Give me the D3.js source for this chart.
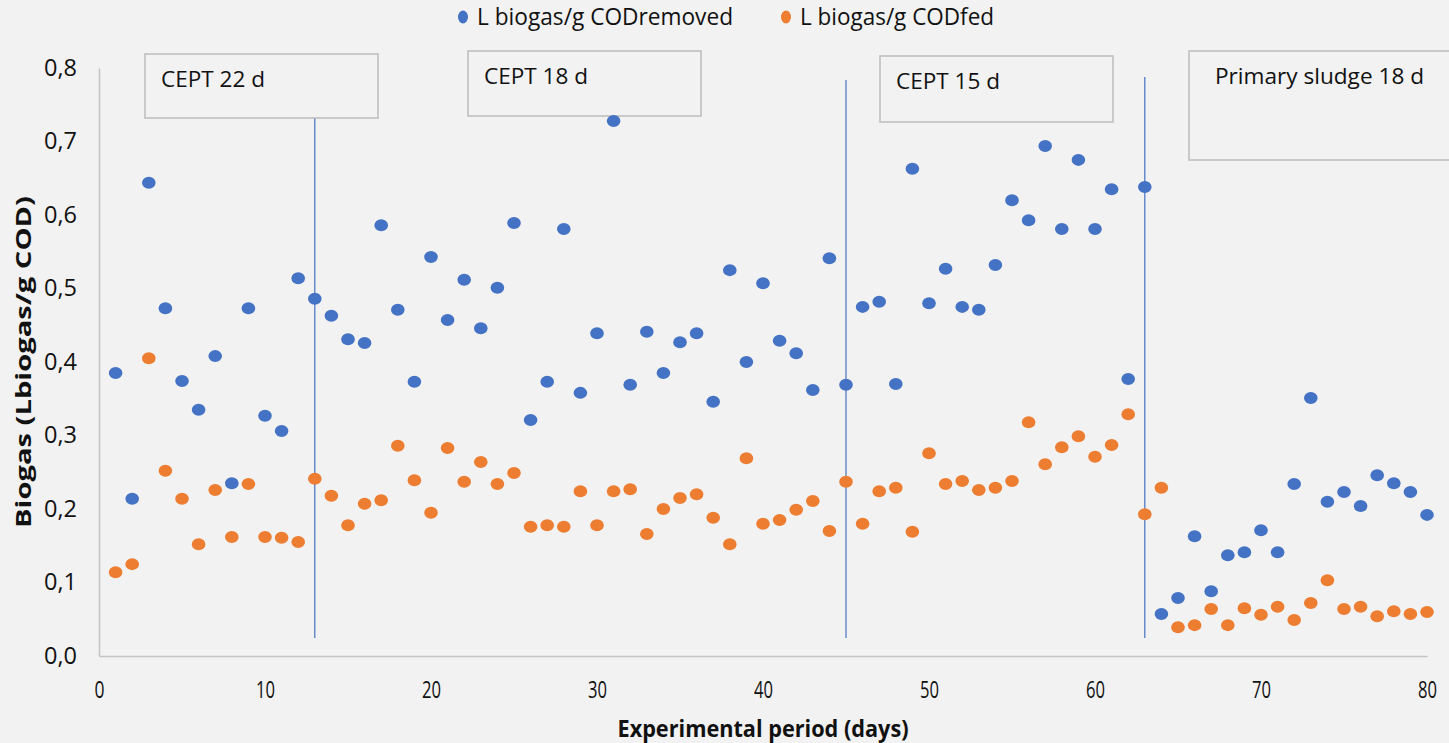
<!DOCTYPE html>
<meta charset="utf-8">
<body style="margin:0;background:#f2f2f2">
<svg width="1449" height="743"></svg>
<script src="https://cdnjs.cloudflare.com/ajax/libs/d3/7.8.5/d3.min.js"></script>
<script>
var days = d3.range(1, 81);

var removed = [0.385,0.214,0.644,0.473,0.374,0.335,0.408,0.235,0.473,0.327,
  0.306,0.514,0.486,0.463,0.431,0.426,0.586,0.471,0.373,0.543,
  0.457,0.512,0.446,0.501,0.589,0.321,0.373,0.581,0.358,0.439,
  0.728,0.369,0.441,0.385,0.427,0.439,0.346,0.525,0.400,0.507,
  0.429,0.412,0.362,0.541,0.369,0.475,0.482,0.370,0.663,0.480,
  0.527,0.475,0.471,0.532,0.620,0.593,0.694,0.581,0.675,0.581,
  0.635,0.377,0.638,0.057,0.079,0.163,0.088,0.137,0.141,0.171,
  0.141,0.234,0.351,0.210,0.223,0.204,0.246,0.235,0.223,0.192];

var fed = [0.114,0.125,0.405,0.252,0.214,0.152,0.226,0.162,0.234,0.162,
  0.161,0.155,0.241,0.218,0.178,0.207,0.212,0.286,0.239,0.195,
  0.283,0.237,0.264,0.234,0.249,0.176,0.178,0.176,0.224,0.178,
  0.224,0.227,0.166,0.200,0.215,0.220,0.188,0.152,0.269,0.180,
  0.185,0.199,0.211,0.170,0.237,0.180,0.224,0.229,0.169,0.276,
  0.234,0.238,0.226,0.229,0.238,0.318,0.261,0.284,0.299,0.271,
  0.287,0.329,0.193,0.229,0.039,0.042,0.064,0.042,0.065,0.056,
  0.067,0.049,0.072,0.103,0.064,0.067,0.054,0.061,0.057,0.060];

var seriesNames = ["L biogas/g CODremoved", "L biogas/g CODfed"];
var colors = ["#4472C4", "#ED7D31"];

// phase changes and their labels
var phaseDays = [13, 45, 63];
var phaseLabels = ["CEPT 22 d", "CEPT 18 d", "CEPT 15 d", "Primary sludge 18 d"];

var xTicks = [0, 10, 20, 30, 40, 50, 60, 70, 80];
var yTicks = [0, 0.1, 0.2, 0.3, 0.4, 0.5, 0.6, 0.7, 0.8];

var font = "Open Sans, sans-serif";
var svg = d3.select("svg");
var x = d3.scaleLinear().domain([0, 80]).range([99, 1427]);
var y = d3.scaleLinear().domain([0, 0.8]).range([656, 68]);
var fmt = function(d) { return d3.format(".1f")(d).replace(".", ","); };

// axes
var xAxis = svg.append("g").attr("transform", "translate(0,656)")
  .call(d3.axisBottom(x).tickValues(xTicks).tickSize(0).tickPadding(25));
var yAxis = svg.append("g").attr("transform", "translate(99,0)")
  .call(d3.axisLeft(y).tickValues(yTicks).tickFormat(fmt).tickSize(0).tickPadding(22));
[xAxis, yAxis].forEach(function(a) {
  a.select(".domain").attr("stroke", "#c4c4c4").attr("stroke-width", 1.5);
  a.selectAll("text").attr("font-family", font).attr("fill", "#111");
});
xAxis.selectAll("text").attr("font-size", 23).attr("dy", "0.72em")
  .attr("lengthAdjust", "spacingAndGlyphs")
  .attr("textLength", function(d) { return d == 0 ? 10 : 19; });
yAxis.selectAll("text").attr("font-size", 23)
  .attr("lengthAdjust", "spacingAndGlyphs").attr("textLength", 33);

// phase lines
svg.selectAll(".phase").data(phaseDays).enter().append("line")
  .attr("x1", function(d) { return x(d); })
  .attr("x2", function(d) { return x(d); })
  .attr("y1", function(d, i) { return [118, 80, 77][i]; })
  .attr("y2", 638)
  .attr("stroke", "#4472C4").attr("stroke-width", 1.2);

// label boxes
var boxes = [[145, 54, 233, 64], [468, 51, 233, 65], [880, 56, 233, 66], [1189, 51, 262, 109]];
var labW = [104, 104, 104, 209];
var bg = svg.selectAll(".box").data(phaseLabels).enter().append("g");
bg.append("rect")
  .attr("x", function(d, i) { return boxes[i][0]; })
  .attr("y", function(d, i) { return boxes[i][1]; })
  .attr("width", function(d, i) { return boxes[i][2]; })
  .attr("height", function(d, i) { return boxes[i][3]; })
  .attr("fill", "#f2f2f2").attr("stroke", "#bfbfbf").attr("stroke-width", 1.6);
bg.append("text")
  .attr("x", function(d, i) { return i == 3 ? 1215 : boxes[i][0] + 16; })
  .attr("y", function(d, i) { return boxes[i][1] + 33; })
  .attr("font-family", font).attr("font-size", 22).attr("fill", "#111")
  .attr("lengthAdjust", "spacingAndGlyphs")
  .attr("textLength", function(d, i) { return labW[i]; })
  .text(function(d) { return d; });

// points
[removed, fed].forEach(function(vals, s) {
  svg.append("g").selectAll("ellipse").data(vals).enter().append("ellipse")
    .attr("cx", function(d, i) { return x(days[i]); })
    .attr("cy", function(d) { return y(d); })
    .attr("rx", 6.8).attr("ry", 6)
    .attr("fill", colors[s]);
});

// legend
var legX = [463, 786];
var legW = [256, 194];
seriesNames.forEach(function(n, i) {
  svg.append("ellipse").attr("cx", legX[i]).attr("cy", 17).attr("rx", 5).attr("ry", 6.5).attr("fill", colors[i]);
  svg.append("text").attr("x", legX[i] + 14).attr("y", 25)
    .attr("font-family", font).attr("font-size", 24).attr("fill", "#111")
    .attr("lengthAdjust", "spacingAndGlyphs").attr("textLength", legW[i])
    .text(n);
});

// titles
svg.append("text").attr("x", 763).attr("y", 737).attr("text-anchor", "middle")
  .attr("font-family", font).attr("font-weight", "bold").attr("font-size", 24)
  .attr("lengthAdjust", "spacingAndGlyphs").attr("textLength", 291)
  .attr("fill", "#111").text("Experimental period (days)");
svg.append("text").attr("transform", "translate(31,362) rotate(-90)").attr("text-anchor", "middle")
  .attr("font-family", font).attr("font-weight", "bold").attr("font-size", 22)
  .attr("lengthAdjust", "spacingAndGlyphs").attr("textLength", 332)
  .attr("fill", "#111").text("Biogas (Lbiogas/g COD)");
</script>
</body>
